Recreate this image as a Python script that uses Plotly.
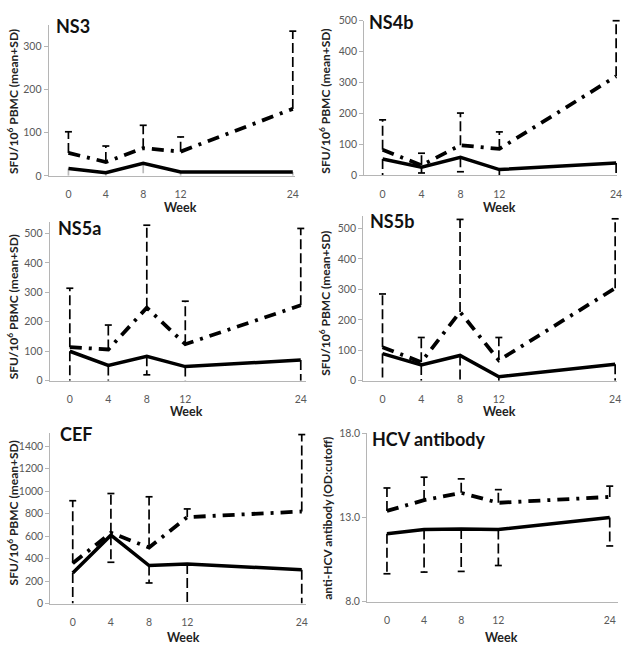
import plotly.graph_objects as go

W, H = 634, 655
weeks = [0, 4, 8, 12, 24]

# ---- data ----
ns3_solid = [17, 7, 29, 9, 9]
ns3_solid_low = [0, 0, 0, 0, 0]
ns3_dd = [53, 32, 64, 56, 155]
ns3_dd_up = [102, 69, 117, 90, 335]

ns4b_solid = [52, 26, 58, 18, 39]
ns4b_solid_low = [0, 7, 11, 0, 0]
ns4b_dd = [82, 32, 97, 85, 320]
ns4b_dd_up = [179, 71, 201, 140, 500]

ns5a_solid = [100, 52, 83, 48, 70]
ns5a_solid_low = [0, 0, 20, 0, 0]
ns5a_dd = [114, 106, 248, 124, 256]
ns5a_dd_up = [314, 189, 528, 270, 517]

ns5b_solid = [89, 52, 83, 13, 54]
ns5b_solid_low = [0, 0, 0, 0, 0]
ns5b_dd = [110, 61, 226, 67, 304]
ns5b_dd_up = [285, 142, 530, 142, 532]

cef_solid = [271, 608, 338, 352, 300]
cef_solid_low = [0, 367, 183, 0, 0]
cef_dd = [358, 629, 498, 768, 818]
cef_dd_up = [914, 978, 949, 841, 1502]

hcv_solid = [12.02, 12.27, 12.31, 12.27, 12.99]
hcv_solid_low = [9.65, 9.75, 9.79, 10.14, 11.30]
hcv_dd = [13.38, 14.02, 14.45, 13.86, 14.21]
hcv_dd_up = [14.74, 15.38, 15.28, 14.64, 14.85]

titles = ["NS3", "NS4b", "NS5a", "NS5b", "CEF", "HCV antibody"]
y_titles = ["SFU/10<sup>6</sup> PBMC (mean+SD)"] * 5 + ["anti-HCV antibody (OD:cutoff)"]
x_title = "Week"

panels = [
    (ns3_solid, ns3_solid_low, ns3_dd, ns3_dd_up),
    (ns4b_solid, ns4b_solid_low, ns4b_dd, ns4b_dd_up),
    (ns5a_solid, ns5a_solid_low, ns5a_dd, ns5a_dd_up),
    (ns5b_solid, ns5b_solid_low, ns5b_dd, ns5b_dd_up),
    (cef_solid, cef_solid_low, cef_dd, cef_dd_up),
    (hcv_solid, hcv_solid_low, hcv_dd, hcv_dd_up),
]

# ---- geometry (pixels) ----
# (x_left, x_right, y_top, y_bottom, xrange, yrange, dtick)
geo = [
    (49, 297, 19, 173, [-2.12, 24.2], [0, 350], 100),
    (367, 622, 15, 172.3, [-1.9, 24.1], [0, 500], 100),
    (50, 308, 219.7, 381.7, [-2.1, 24.5], [0, 540], 100),
    (366, 622, 214.3, 381.7, [-2.0, 24.2], [0, 540], 100),
    (50.7, 308, 434.5, 608.7, [-2.35, 24.4], [0, 1520], 200),
    (370, 623, 435, 606.7, [-2.14, 24.9], [8, 18], None),
]
title_pos = [(54, 20), (370, 16), (56, 226), (371, 219), (58, 436), (373, 441)]
ytitle_pos = [(13, 97), (328, 97), (13, 306), (328, 303), (13, 516), (330, 522)]
week_pos = [(182, 205), (503, 205), (188, 413), (503, 413), (185, 643), (505, 643)]

FONT = "Lato"
AX = "#b5b5b5"
TICKC = "#595959"

fig = go.Figure()
layout = dict(
    width=W, height=H, margin=dict(l=0, r=0, t=0, b=0),
    paper_bgcolor="white", plot_bgcolor="white", showlegend=False,
    font=dict(family=FONT, color="#222"),
)
annotations = []

for i, ((solid, low, dd, up), (xl, xr, yt, yb, xrng, yrng, dt)) in enumerate(zip(panels, geo)):
    n = "" if i == 0 else str(i + 1)
    xa, ya = "x" + n, "y" + n
    layout["xaxis" + n] = dict(
        domain=[xl / W, xr / W], range=xrng, anchor=ya,
        tickvals=weeks, ticktext=[str(w) for w in weeks],
        showline=True, linecolor=AX, linewidth=1, showgrid=False, zeroline=False,
        ticks="outside", ticklen=9, tickcolor="rgba(0,0,0,0)",
        tickfont=dict(family=FONT, size=10.5, color=TICKC), fixedrange=True,
    )
    ydict = dict(
        domain=[1 - yb / H, 1 - yt / H], range=yrng, anchor=xa,
        showline=True, linecolor=AX, linewidth=1, showgrid=False, zeroline=False,
        ticks="outside", ticklen=4, tickcolor=AX,
        tickfont=dict(family=FONT, size=10.5, color=TICKC), fixedrange=True,
    )
    if dt is None:
        ydict.update(tickvals=[8, 13, 18], ticktext=["8.0", "13.0", "18.0"])
    else:
        ydict.update(dtick=dt, tick0=0)
    layout["yaxis" + n] = ydict

    # error bars: dash-dot series upward, solid series downward
    err_color = "#bbbbbb" if i == 0 else "black"
    ex, ey = [], []
    for w, m, l in zip(weeks, solid, low):
        ex += [w, w, None]
        ey += [m, l, None]
    fig.add_trace(go.Scatter(x=ex, y=ey, xaxis=xa, yaxis=ya, mode="lines",
                             line=dict(color=err_color, width=1.7, dash="10px,4px"),
                             hoverinfo="skip", cliponaxis=False))
    cap_x = [w for w, l in zip(weeks, low) if l > yrng[0]]
    cap_y = [l for l in low if l > yrng[0]]
    fig.add_trace(go.Scatter(x=cap_x, y=cap_y, xaxis=xa, yaxis=ya, mode="markers",
                             marker=dict(symbol="line-ew", size=5, line=dict(color=err_color, width=1.7)),
                             hoverinfo="skip", cliponaxis=False))
    ex, ey = [], []
    for w, m, u in zip(weeks, dd, up):
        ex += [w, w, None]
        ey += [m, u, None]
    fig.add_trace(go.Scatter(x=ex, y=ey, xaxis=xa, yaxis=ya, mode="lines",
                             line=dict(color="black", width=1.7, dash="10px,4px"),
                             hoverinfo="skip", cliponaxis=False))
    fig.add_trace(go.Scatter(x=weeks, y=up, xaxis=xa, yaxis=ya, mode="markers",
                             marker=dict(symbol="line-ew", size=5, line=dict(color="black", width=1.7)),
                             hoverinfo="skip", cliponaxis=False))
    # main lines
    fig.add_trace(go.Scatter(x=weeks, y=dd, xaxis=xa, yaxis=ya, mode="lines",
                             line=dict(color="black", width=3.8, dash="12px,7px,3px,7px"),
                             cliponaxis=False))
    fig.add_trace(go.Scatter(x=weeks, y=solid, xaxis=xa, yaxis=ya, mode="lines",
                             line=dict(color="black", width=3.5), cliponaxis=False))

    tx, ty = title_pos[i]
    annotations.append(dict(text="<b>%s</b>" % titles[i], x=tx / W, y=1 - ty / H,
                            xref="paper", yref="paper", xanchor="left", yanchor="middle",
                            showarrow=False, font=dict(family=FONT, size=18, color="#111")))
    yx, yy = ytitle_pos[i]
    annotations.append(dict(text="<b>%s</b>" % y_titles[i], x=yx / W, y=1 - yy / H,
                            xref="paper", yref="paper", xanchor="center", yanchor="middle",
                            textangle=-90, showarrow=False,
                            font=dict(family=FONT, size=12, color="#222")))
    wx, wy = week_pos[i]
    annotations.append(dict(text="<b>%s</b>" % x_title, x=wx / W, y=1 - wy / H,
                            xref="paper", yref="paper", xanchor="center", yanchor="middle",
                            showarrow=False, font=dict(family=FONT, size=12.5, color="#222")))

layout["annotations"] = annotations
fig.update_layout(**layout)
fig.write_html("out.html", config={"displayModeBar": False},
               post_script="document.body.style.margin='0';document.body.style.overflow='hidden';")
